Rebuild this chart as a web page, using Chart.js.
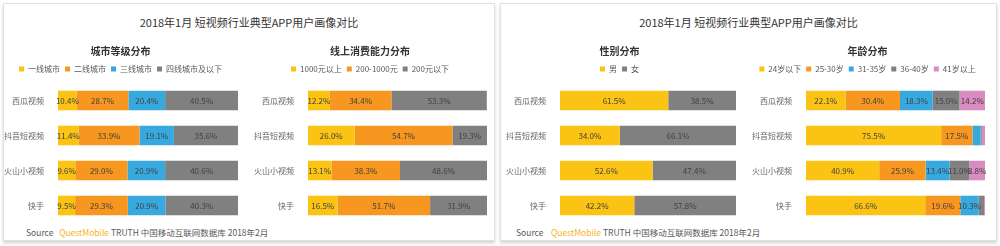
<!DOCTYPE html>
<html>
<head>
<meta charset="utf-8">
<script src="https://cdn.jsdelivr.net/npm/chart.js@4.4.0/dist/chart.umd.min.js"></script>
<style>
  html, body { margin: 0; padding: 0; background: #fff; }
  body { width: 1000px; height: 246px; position: relative; overflow: hidden;
         font-family: "Microsoft YaHei", "Noto Sans CJK SC", sans-serif; }
  .panel { position: absolute; top: 3px; height: 236px; background: #fff;
           border: 1px solid #e2e2e2; box-shadow: 0 2px 3px rgba(0,0,0,0.18); }
  .title { position: absolute; top: 10px; left: 0; right: 0; text-align: center;
           font-size: 11px; color: #333; }
  .source { position: absolute; top: 222px; font-size: 8.5px; color: #595959; white-space: nowrap; }
  .source .qm { color: #f5b41e; }
  canvas { position: absolute; }
</style>
</head>
<body>
<div class="panel" style="left:3px;width:490px;">
  <div class="title">2018年1月 短视频行业典型APP用户画像对比</div>
  <div class="source" style="left:22px;">Source&nbsp;&nbsp;&nbsp;<span class="qm">QuestMobile</span> TRUTH 中国移动互联网数据库 2018年2月</div>
</div>
<div class="panel" style="left:500px;width:495px;">
  <div class="title">2018年1月 短视频行业典型APP用户画像对比</div>
  <div class="source" style="left:15px;">Source&nbsp;&nbsp;&nbsp;&nbsp;<span class="qm">QuestMobile</span> TRUTH 中国移动互联网数据库 2018年2月</div>
</div>

<canvas id="c1" width="245" height="185" style="left:3px;top:38px;"></canvas>
<canvas id="c2" width="241" height="185" style="left:253px;top:38px;"></canvas>
<canvas id="c3" width="245" height="185" style="left:503px;top:38px;"></canvas>
<canvas id="c4" width="245" height="185" style="left:750px;top:38px;"></canvas>

<script>
const apps = ['西瓜视频', '抖音短视频', '火山小视频', '快手'];

// 城市等级分布
const cityNames = ['一线城市', '二线城市', '三线城市', '四线城市及以下'];
const cityTier1 = [10.4, 11.4, 9.6, 9.5];
const cityTier2 = [28.7, 33.9, 29.0, 29.3];
const cityTier3 = [20.4, 19.1, 20.9, 20.9];
const cityTier4 = [40.5, 35.6, 40.6, 40.3];

// 线上消费能力分布
const spendNames = ['1000元以上', '200-1000元', '200元以下'];
const spendHigh = [12.2, 26.0, 13.1, 16.5];
const spendMid = [34.4, 54.7, 38.3, 51.7];
const spendLow = [53.3, 19.3, 48.6, 31.9];

// 性别分布
const genderNames = ['男', '女'];
const male = [61.5, 34.0, 52.6, 42.2];
const female = [38.5, 66.1, 47.4, 57.8];

// 年龄分布
const ageNames = ['24岁以下', '25-30岁', '31-35岁', '36-40岁', '41岁以上'];
const age24 = [22.1, 75.5, 40.9, 66.6];
const age25 = [30.4, 17.5, 25.9, 19.6];
const age31 = [18.3, 4.6, 13.4, 10.3];
const age36 = [15.0, 0.6, 11.0, 3.0];
const age41 = [14.2, 1.8, 8.8, 0.5];

const YELLOW = '#fbc313', ORANGE = '#f7971f', BLUE = '#38a9df', GRAY = '#808080', PINK = '#d98cbf';

Chart.defaults.font.family = '"Microsoft YaHei", "Noto Sans CJK SC", sans-serif';

// percent labels in the middle of each segment
const valueLabels = {
  id: 'valueLabels',
  afterDatasetsDraw(chart) {
    const ctx = chart.ctx;
    ctx.save();
    ctx.font = '8px "Microsoft YaHei", "Noto Sans CJK SC", sans-serif';
    ctx.fillStyle = '#404040';
    ctx.textAlign = 'center';
    ctx.textBaseline = 'middle';
    chart.data.datasets.forEach((ds, i) => {
      chart.getDatasetMeta(i).data.forEach((bar, j) => {
        const v = ds.data[j];
        if (v < 5) return;
        ctx.fillText(v.toFixed(1) + '%', (bar.x + bar.base) / 2, bar.y + 0.5);
      });
    });
    ctx.restore();
  }
};

function makeChart(id, title, names, series, colors, axisWidth, padRight) {
  new Chart(document.getElementById(id), {
    type: 'bar',
    data: {
      labels: apps,
      datasets: series.map((d, i) => ({
        label: names[i],
        data: d,
        backgroundColor: colors[i],
        borderWidth: 0,
        barPercentage: 0.56,
        categoryPercentage: 1
      }))
    },
    options: {
      indexAxis: 'y',
      responsive: false,
      animation: false,
      layout: { padding: { left: 0, right: padRight, top: 0, bottom: 0 } },
      scales: {
        x: { stacked: true, min: 0, max: 100, display: false },
        y: {
          stacked: true,
          grid: { display: false },
          border: { display: false },
          ticks: { color: '#666', font: { size: 8 }, padding: 6 },
          afterFit: s => { s.width = axisWidth; s.paddingTop = 0; s.paddingBottom = 0; }
        }
      },
      plugins: {
        title: {
          display: true, text: title, color: '#333',
          font: { size: 10, weight: 'bold' },
          padding: { top: 7, bottom: 3 }
        },
        legend: {
          labels: {
            boxWidth: 5, boxHeight: 5, padding: 5,
            color: '#595959', font: { size: 8 }
          }
        },
        tooltip: { enabled: false }
      }
    },
    plugins: [valueLabels]
  });
}

makeChart('c1', '城市等级分布', cityNames, [cityTier1, cityTier2, cityTier3, cityTier4],
  [YELLOW, ORANGE, BLUE, GRAY], 55, 10);
makeChart('c2', '线上消费能力分布', spendNames, [spendHigh, spendMid, spendLow],
  [YELLOW, ORANGE, GRAY], 55, 7);
makeChart('c3', '性别分布', genderNames, [male, female],
  [YELLOW, GRAY], 57, 12);
makeChart('c4', '年龄分布', ageNames, [age24, age25, age31, age36, age41],
  [YELLOW, ORANGE, BLUE, GRAY, PINK], 56, 10);
</script>
</body>
</html>
